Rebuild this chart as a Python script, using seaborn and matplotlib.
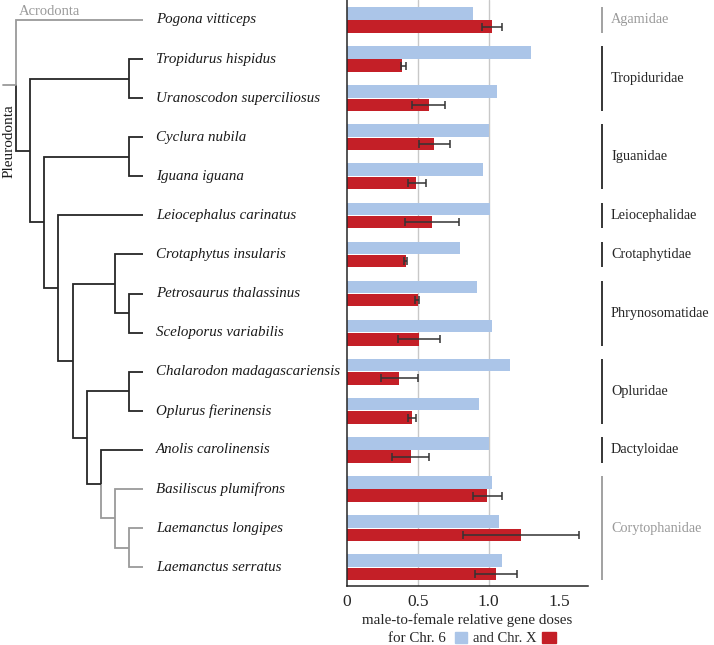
import numpy as np
import pandas as pd
import seaborn as sns
import matplotlib.pyplot as plt

# species in plot order (top to bottom)
species = ["Pogona vitticeps", "Tropidurus hispidus", "Uranoscodon superciliosus",
           "Cyclura nubila", "Iguana iguana", "Leiocephalus carinatus",
           "Crotaphytus insularis", "Petrosaurus thalassinus", "Sceloporus variabilis",
           "Chalarodon madagascariensis", "Oplurus fierinensis", "Anolis carolinensis",
           "Basiliscus plumifrons", "Laemanctus longipes", "Laemanctus serratus"]
chr6 = [0.89, 1.30, 1.06, 1.00, 0.96, 1.01, 0.80, 0.92, 1.02, 1.15, 0.93, 1.00, 1.02, 1.07, 1.09]
chrX = [1.02, 0.39, 0.575, 0.615, 0.49, 0.60, 0.415, 0.50, 0.51, 0.37, 0.46, 0.45, 0.99, 1.23, 1.05]
chrX_lo = [0.95, 0.38, 0.46, 0.51, 0.43, 0.41, 0.405, 0.48, 0.36, 0.24, 0.43, 0.32, 0.89, 0.82, 0.90]
chrX_hi = [1.09, 0.415, 0.69, 0.725, 0.556, 0.79, 0.425, 0.51, 0.655, 0.50, 0.49, 0.58, 1.09, 1.64, 1.20]

families = ["Agamidae", "Tropiduridae", "Iguanidae", "Leiocephalidae", "Crotaphytidae",
            "Phrynosomatidae", "Opluridae", "Dactyloidae", "Corytophanidae"]
fam_first = [0, 1, 3, 5, 6, 7, 9, 11, 12]
fam_last = [0, 2, 4, 5, 6, 8, 10, 11, 14]

# cladogram topology
corytophanidae = ("Basiliscus plumifrons", ("Laemanctus longipes", "Laemanctus serratus"))
tree = ("Pogona vitticeps",
        (("Tropidurus hispidus", "Uranoscodon superciliosus"),
         (("Cyclura nubila", "Iguana iguana"),
          ("Leiocephalus carinatus",
           (("Crotaphytus insularis", ("Petrosaurus thalassinus", "Sceloporus variabilis")),
            (("Chalarodon madagascariensis", "Oplurus fierinensis"),
             ("Anolis carolinensis", corytophanidae)))))))
gray_clades = ["Pogona vitticeps", corytophanidae]

BLUE = "#abc5e8"
RED = "#c41f27"
GRAY = "#9a9a9a"
DARK = "#262626"

sns.set_theme(style="white")
plt.rcParams['font.family'] = ['Liberation Serif', 'DejaVu Serif']

fig = plt.figure(figsize=(7.14, 6.45), dpi=100)
W, H = 714, 645
ax_bottom = 1 - 586 / H
ax_h = 586 / H
ax = fig.add_axes([347 / W, ax_bottom, 241 / W, ax_h])
ax_tree = fig.add_axes([0, ax_bottom, 345 / W, ax_h], sharey=ax)
ax_fam = fig.add_axes([590 / W, ax_bottom, 124 / W, ax_h], sharey=ax)

# --- bars ---
df = pd.DataFrame({"species": species * 2,
                   "dose": chr6 + chrX,
                   "chrom": ["Chr. 6"] * len(species) + ["Chr. X"] * len(species)})
ax.axvline(0.5, color="#c8c8c8", lw=1.0, zorder=0)
ax.axvline(1.0, color="#c8c8c8", lw=1.0, zorder=0)
sns.barplot(data=df, y="species", x="dose", hue="chrom", order=species,
            palette=[BLUE, RED], saturation=1, orient="h", width=0.68, gap=0.06,
            errorbar=None, legend=False, linewidth=0, ax=ax)

red_bars = ax.containers[1]
yc = [p.get_y() + p.get_height() / 2 for p in red_bars]
xv = np.array(chrX)
xerr = [xv - np.array(chrX_lo), np.array(chrX_hi) - xv]
ax.errorbar(xv, yc, xerr=xerr, fmt="none", ecolor="#333333", elinewidth=1.1,
            capsize=3, capthick=1.1, zorder=5)

ax.set_xlim(0, 1.7)
ax.set_ylim(14.48, -0.51)
ax.set_xticks([0, 0.5, 1.0, 1.5])
ax.set_xticklabels(["0", "0.5", "1.0", "1.5"], fontsize=12.5)
ax.tick_params(axis="x", direction="out", length=4, width=1, color=DARK, pad=2)
ax.tick_params(axis="y", left=False, labelleft=False)
ax.set_xlabel("")
ax.set_ylabel("")
for s in ["top", "right"]:
    ax.spines[s].set_visible(False)
for s in ["left", "bottom"]:
    ax.spines[s].set_color(DARK)
    ax.spines[s].set_linewidth(1.1)

# --- tree ---
TIP_X = 143
STEP = 14.1


def draw(node, color):
    if node in gray_clades:
        color = GRAY
    if isinstance(node, str):
        return species.index(node), 0, color
    kids = [draw(c, color) for c in node]
    height = 1 + max(k[1] for k in kids)
    y = (kids[0][0] + kids[-1][0]) / 2
    x = TIP_X - height * STEP
    for c, (cy, ch, ccol) in zip(node, kids):
        cx = TIP_X - ch * STEP
        ax_tree.plot([x, x, cx], [y, cy, cy], color=ccol, lw=1.3,
                     solid_joinstyle="miter", solid_capstyle="butt")
    return y, height, color


root_y, root_h, _ = draw(tree, DARK)
root_x = TIP_X - root_h * STEP
ax_tree.plot([3, root_x], [root_y, root_y], color=GRAY, lw=1.3)

for i, name in enumerate(species):
    ax_tree.text(156, i, name, style="italic", fontsize=10.8, va="center", ha="left",
                 color="#1a1a1a")
ax_tree.text(19, -0.22, "Acrodonta", fontsize=10.5, color=GRAY, va="center", ha="left")
ax_tree.text(9, 3.1, "Pleurodonta", fontsize=11, color="#1a1a1a", rotation=90,
             va="center", ha="center")
ax_tree.set_xlim(0, 345)
ax_tree.axis("off")

# --- families ---
for name, a, b in zip(families, fam_first, fam_last):
    col = GRAY if name in ("Agamidae", "Corytophanidae") else DARK
    ax_fam.plot([12, 12], [a - 0.33, b + 0.33], color=col, lw=1.3,
                solid_capstyle="butt")
    ax_fam.text(21, (a + b) / 2, name, fontsize=10.3, color=col, va="center", ha="left")
ax_fam.set_xlim(0, 124)
ax_fam.axis("off")

# --- axis label / legend ---
fig.text(467.5 / W, 1 - 620 / H, "male-to-female relative gene doses", fontsize=10.8,
         ha="center", va="center")
fig.text(446 / W, 1 - 638 / H, "for Chr. 6", fontsize=10.8, ha="right", va="center")
fig.text(537 / W, 1 - 638 / H, "and Chr. X", fontsize=10.5, ha="right", va="center")
fig.patches.append(plt.Rectangle((455 / W, 1 - 643 / H), 12 / W, 11 / H,
                                 transform=fig.transFigure, color=BLUE))
fig.patches.append(plt.Rectangle((542 / W, 1 - 643 / H), 14 / W, 11 / H,
                                 transform=fig.transFigure, color=RED))

fig.savefig("out.png", dpi=100)
